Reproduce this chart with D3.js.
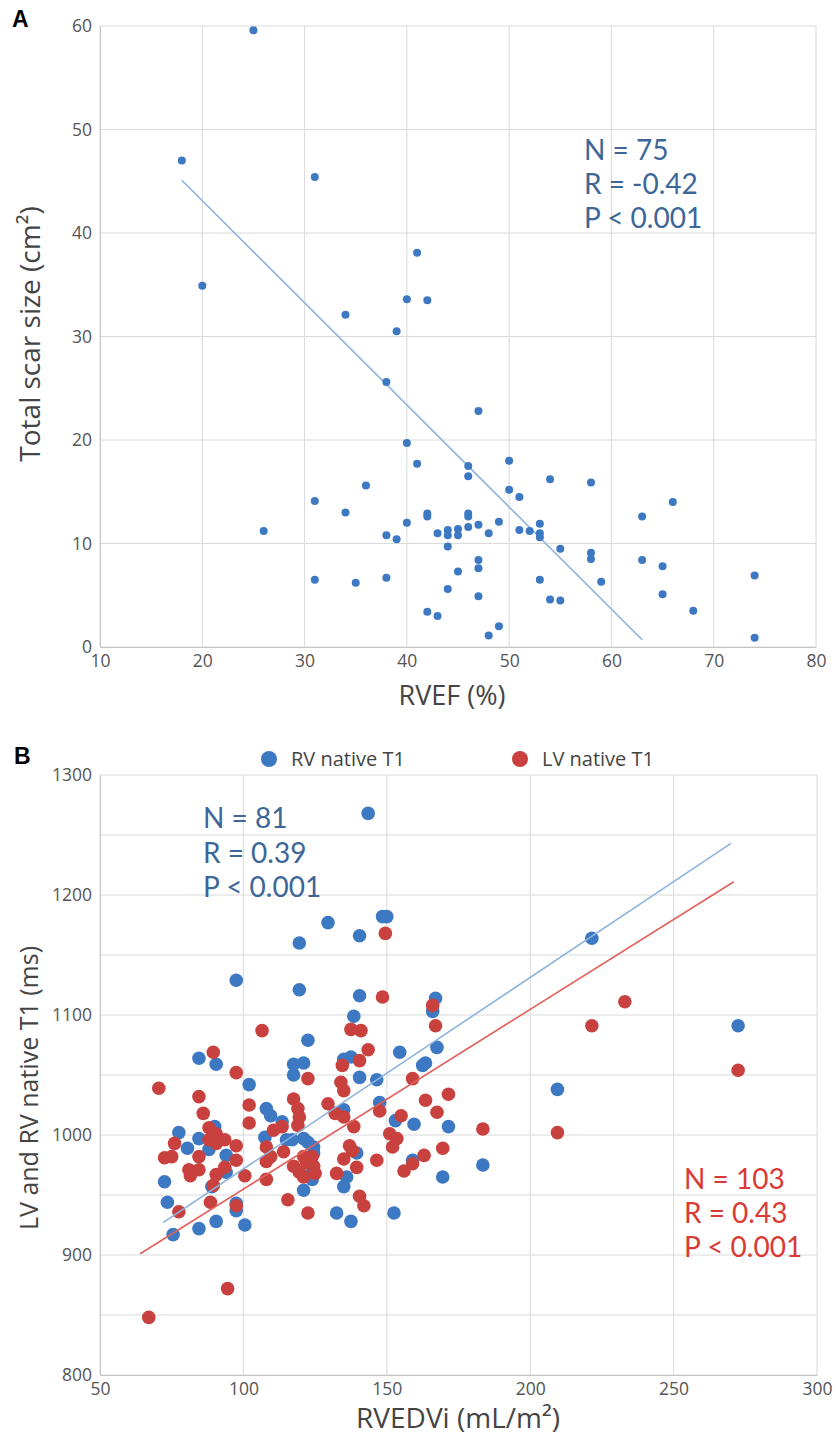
<!DOCTYPE html>
<html>
<head>
<meta charset="utf-8">
<script src="https://cdn.jsdelivr.net/npm/d3@7/dist/d3.min.js"></script>
<style>
  body { margin: 0; background: #fff; }
  svg { display: block; font-family: "Open Sans", Lato, sans-serif; }
</style>
</head>
<body>
<svg id="chart" width="836" height="1436"></svg>
<script>
// ---- panel A : RVEF vs total scar size ----
var scarPoints = [
  [25, 59.6], [18, 47], [31, 45.4], [20, 34.9], [34, 32.1], [39, 30.5], [40, 33.6], [42, 33.5], [41, 38.1],
  [38, 25.6], [47, 22.8], [40, 19.7], [41, 17.7], [46, 17.5], [46, 16.5], [50, 18], [54, 16.2], [58, 15.9],
  [36, 15.6], [50, 15.2], [51, 14.5], [31, 14.1], [34, 13.0], [42, 12.9], [42, 12.6], [46, 12.9], [46, 12.6],
  [40, 12.0], [46, 11.6], [47, 11.8], [49, 12.1], [53, 11.9], [63, 12.6], [43, 11.0], [44, 11.3], [44, 10.8],
  [45, 11.4], [45, 10.8], [48, 11.0], [51, 11.3], [52, 11.2], [53, 11.0], [53, 10.6], [38, 10.8], [39, 10.4],
  [44, 9.7], [55, 9.5], [58, 9.1], [58, 8.5], [63, 8.4], [47, 8.4], [47, 7.6], [45, 7.3], [65, 7.8],
  [31, 6.5], [35, 6.2], [38, 6.7], [53, 6.5], [59, 6.3], [44, 5.6], [47, 4.9], [54, 4.6], [55, 4.5],
  [42, 3.4], [43, 3.0], [49, 2.0], [48, 1.1], [66, 14.0], [65, 5.1], [68, 3.5], [74, 6.9], [74, 0.9],
  [26, 11.2]
];
var scarFit = [[18, 45.1], [63, 0.7]];
var scarStats = ["N = 75", "R = -0.42", "P < 0.001"];
var rvefTicks = [10, 20, 30, 40, 50, 60, 70, 80];
var scarTicks = [0, 10, 20, 30, 40, 50, 60];

// ---- panel B : RVEDVi vs native T1 ----
var rvT1 = [
  [84.5, 1064], [90.5, 1059], [97.5, 1129], [102, 1042], [77.5, 1002], [80.5, 989], [84.5, 997], [94, 983],
  [89, 957], [72.5, 961], [73.5, 944], [75.5, 917], [84.5, 922], [90.5, 928], [97.5, 943], [97.5, 937],
  [100.5, 925], [90, 1007], [88, 988], [94, 969],
  [117.5, 1059], [121, 1060], [117.5, 1050], [122.5, 1079], [119.5, 1160], [119.5, 1121], [129.5, 1177],
  [108, 1022], [109.5, 1016], [113.5, 1011], [115, 996], [117, 996], [121, 997], [122.5, 994], [124.5, 990],
  [124.5, 985], [121, 954], [124, 969], [124, 963], [135, 1021], [135, 957], [136, 965], [132.5, 935],
  [135, 1063], [137.5, 1065], [107.5, 998], [137.5, 928],
  [143.5, 1268], [140.5, 1166], [148.5, 1182], [150, 1182], [140.5, 1116], [138.5, 1099], [140.5, 1048],
  [146.5, 1046], [147.5, 1027], [153, 1012], [159.5, 1009], [159, 979], [152.5, 935], [169.5, 965],
  [167, 1114], [166, 1103], [154.5, 1069], [167.5, 1073], [162.5, 1058], [163.5, 1060], [171.5, 1007],
  [183.5, 975], [209.5, 1038], [221.5, 1164], [272.5, 1091], [139.5, 985]
];
var lvT1 = [
  [89.5, 1069], [97.5, 1052], [70.5, 1039], [84.5, 1032], [102, 1025], [102, 1010], [86, 1018], [76, 993],
  [72.5, 981], [75, 982], [84.5, 982], [88, 1006], [90.5, 1001], [93.5, 996], [88, 996], [90.5, 993],
  [97.5, 991], [97.5, 979], [81, 971], [84.5, 971], [81.5, 966], [93.5, 973], [90.5, 967], [89.5, 958],
  [100.5, 966], [77.5, 936], [88.5, 944], [97.5, 941], [94.5, 872], [67, 848],
  [106.5, 1087], [122.5, 1047], [108, 990], [108, 978], [108, 963], [110.5, 1004], [113.5, 1007], [114, 986],
  [109.5, 982], [117.5, 1030], [119, 1022], [119.5, 1015], [119, 1008], [117.5, 974], [119.5, 969],
  [121, 965], [121, 982], [122, 977], [124, 982], [124.5, 974], [125, 968], [115.5, 946], [122.5, 935],
  [129.5, 1026], [132, 1018], [135, 1015], [134, 1044], [135, 1037], [134.5, 1058], [137.5, 1088],
  [132.5, 968], [135, 980], [137, 991], [138, 987], [138.5, 1007],
  [149.5, 1168], [148.5, 1115], [141, 1087], [143.5, 1071], [140.5, 1062], [166, 1108], [167, 1091],
  [159, 1047], [163.5, 1029], [167.5, 1019], [171.5, 1034], [147.5, 1020], [155, 1016], [151, 1001],
  [153.5, 997], [152, 990], [146.5, 979], [156, 970], [163, 983], [159, 976], [169.5, 989], [183.5, 1005],
  [209.5, 1002], [221.5, 1091], [233, 1111], [272.5, 1054], [139.5, 973], [140.5, 949], [142, 941]
];
var rvFit = [[72, 927], [270, 1243]];
var lvFit = [[64, 901], [271, 1211]];
var rvStats = ["N = 81", "R = 0.39", "P < 0.001"];
var lvStats = ["N = 103", "R = 0.43", "P < 0.001"];
var seriesNames = ["RV native T1", "LV native T1"];
var rvedviTicks = [50, 100, 150, 200, 250, 300];
var t1Grid = [800, 850, 900, 950, 1000, 1050, 1100, 1150, 1200, 1250, 1300];
var t1Ticks = [800, 900, 1000, 1100, 1200, 1300];

var BLUE = "#3d79c2", RED = "#c8413e";
var BLUE_LINE = "#8cb3dd", RED_LINE = "#e1625c";
var BLUE_TXT = "#3d6699", RED_TXT = "#d93a34";
var GRID = "#dadada";

var svg = d3.select("#chart");

function drawFrame(g, x, y, xTicks, yGrid, yTicks) {
  // grid lines first, axes on top
  g.append("g").selectAll("line").data(xTicks).join("line")
    .attr("x1", function(d) { return x(d); }).attr("x2", function(d) { return x(d); })
    .attr("y1", y.range()[0]).attr("y2", y.range()[1])
    .attr("stroke", GRID).attr("stroke-width", 1);
  g.append("g").selectAll("line").data(yGrid).join("line")
    .attr("y1", function(d) { return y(d); }).attr("y2", function(d) { return y(d); })
    .attr("x1", x.range()[0]).attr("x2", x.range()[1])
    .attr("stroke", GRID).attr("stroke-width", 1);

  var xAxis = g.append("g")
    .attr("transform", "translate(0," + y.range()[0] + ")")
    .call(d3.axisBottom(x).tickValues(xTicks).tickFormat(d3.format("d")).tickSize(0).tickPadding(8));
  var yAxis = g.append("g")
    .attr("transform", "translate(" + x.range()[0] + ",0)")
    .call(d3.axisLeft(y).tickValues(yTicks).tickFormat(d3.format("d")).tickSize(0).tickPadding(8));
  [xAxis, yAxis].forEach(function(a) {
    a.attr("font-family", null).attr("font-size", null);
    a.select(".domain").attr("stroke", "#c4c4c4");
    a.selectAll("text").attr("font-size", 17.5).attr("fill", "#555");
  });
}

// stats block, Lato keeps the line boxes apart at this spacing
function statsBlock(g, lines, x, y, step, color) {
  g.append("g").selectAll("text").data(lines).join("text")
    .attr("x", x).attr("y", function(d, i) { return y + i * step; })
    .style("font-family", "Lato, sans-serif")
    .attr("font-size", 28).attr("fill", color)
    .text(function(d) { return d; });
}

// ---------- panel A ----------
var xA = d3.scaleLinear().domain([10, 80]).range([100, 816]);
var yA = d3.scaleLinear().domain([0, 60]).range([647, 26]);
var gA = svg.append("g");
drawFrame(gA, xA, yA, rvefTicks, scarTicks, scarTicks);

gA.append("line")
  .attr("x1", xA(scarFit[0][0])).attr("y1", yA(scarFit[0][1]))
  .attr("x2", xA(scarFit[1][0])).attr("y2", yA(scarFit[1][1]))
  .attr("stroke", BLUE_LINE).attr("stroke-width", 1.6);

gA.append("g").selectAll("circle").data(scarPoints).join("circle")
  .attr("cx", function(d) { return xA(d[0]); })
  .attr("cy", function(d) { return yA(d[1]); })
  .attr("r", 4).attr("fill", BLUE);

statsBlock(gA, scarStats, 584, 160, 34, BLUE_TXT);

gA.append("text").attr("x", 452).attr("y", 705).attr("text-anchor", "middle")
  .attr("font-size", 27).attr("fill", "#444").text("RVEF (%)");
gA.append("text").attr("transform", "translate(40,334) rotate(-90)").attr("text-anchor", "middle")
  .attr("font-size", 28).attr("fill", "#444").text("Total scar size (cm²)");
svg.append("text").attr("x", 12).attr("y", 27).attr("font-size", 23).attr("font-weight", "bold")
  .style("font-family", "'Liberation Sans', Arial, sans-serif").text("A");

// ---------- panel B ----------
var xB = d3.scaleLinear().domain([50, 300]).range([100, 817]);
var yB = d3.scaleLinear().domain([800, 1300]).range([1375, 775]);
var gB = svg.append("g");
drawFrame(gB, xB, yB, rvedviTicks, t1Grid, t1Ticks);

gB.append("g").selectAll("circle").data(rvT1).join("circle")
  .attr("cx", function(d) { return xB(d[0]); })
  .attr("cy", function(d) { return yB(d[1]); })
  .attr("r", 6.8).attr("fill", BLUE);
gB.append("g").selectAll("circle").data(lvT1).join("circle")
  .attr("cx", function(d) { return xB(d[0]); })
  .attr("cy", function(d) { return yB(d[1]); })
  .attr("r", 6.8).attr("fill", RED);

[[rvFit, BLUE_LINE], [lvFit, RED_LINE]].forEach(function(f) {
  gB.append("line")
    .attr("x1", xB(f[0][0][0])).attr("y1", yB(f[0][0][1]))
    .attr("x2", xB(f[0][1][0])).attr("y2", yB(f[0][1][1]))
    .attr("stroke", f[1]).attr("stroke-width", 1.6);
});

statsBlock(gB, rvStats, 203, 828, 34.5, BLUE_TXT);
statsBlock(gB, lvStats, 684, 1189, 34, RED_TXT);

// legend
var legend = gB.append("g").selectAll("g").data(seriesNames).join("g")
  .attr("transform", function(d, i) { return "translate(" + (269 + i * 251) + ",759)"; });
legend.append("circle").attr("r", 8).attr("fill", function(d, i) { return i ? RED : BLUE; });
legend.append("text").attr("x", 22).attr("y", 7).attr("font-size", 20).attr("fill", "#444")
  .text(function(d) { return d; });

gB.append("text").attr("x", 458).attr("y", 1428).attr("text-anchor", "middle")
  .attr("font-size", 28).attr("fill", "#444").text("RVEDVi (mL/m²)");
gB.append("text").attr("transform", "translate(38,1088) rotate(-90)").attr("text-anchor", "middle")
  .attr("font-size", 25).attr("fill", "#444").text("LV and RV native T1 (ms)");
svg.append("text").attr("x", 14).attr("y", 764).attr("font-size", 23).attr("font-weight", "bold")
  .style("font-family", "'Liberation Sans', Arial, sans-serif").text("B");
</script>
</body>
</html>
